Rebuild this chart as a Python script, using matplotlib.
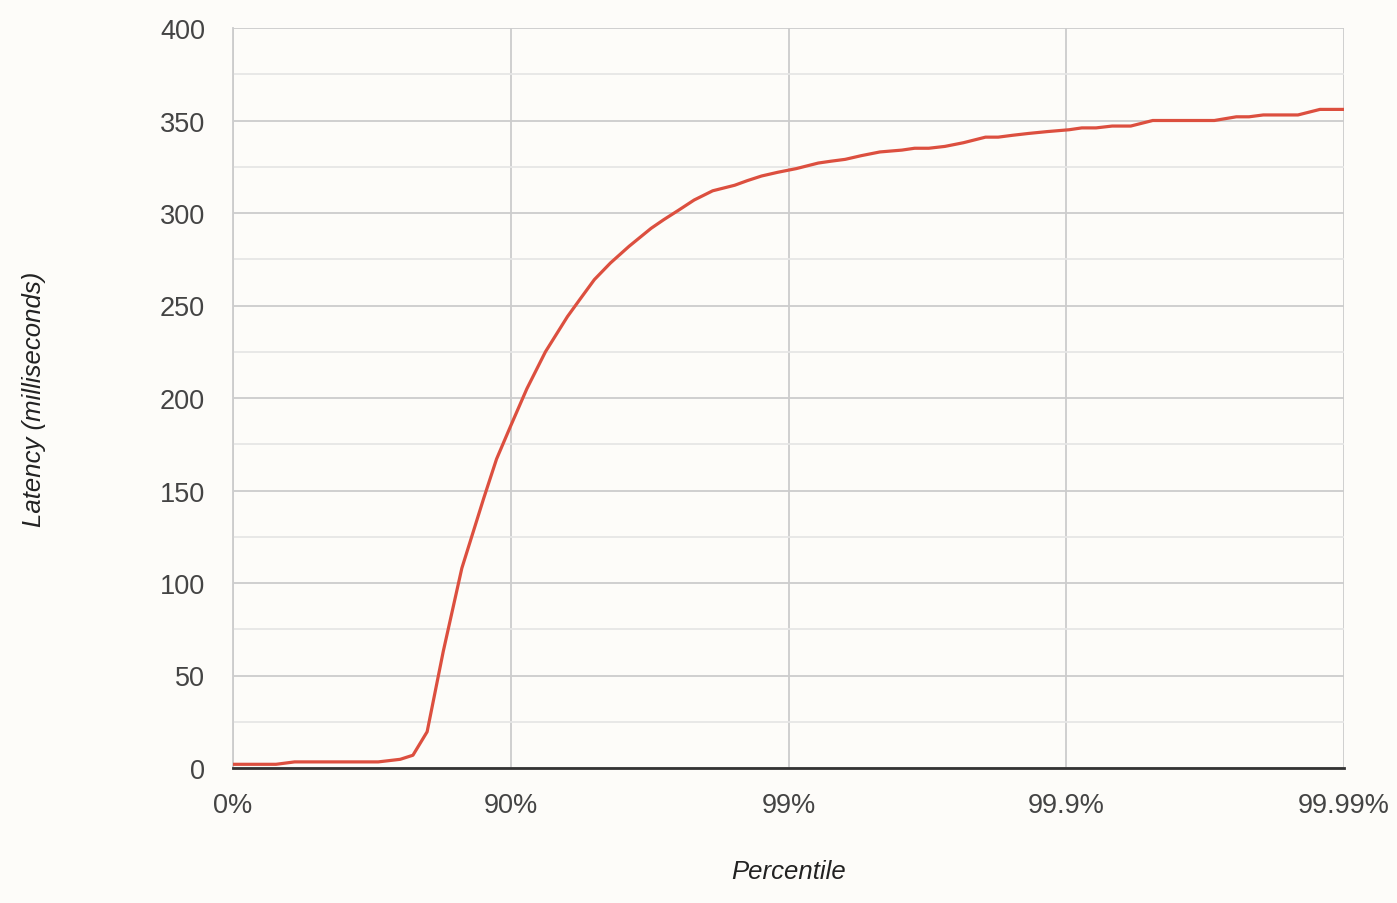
import numpy as np
import matplotlib.pyplot as plt
from matplotlib.ticker import MultipleLocator, NullLocator, FixedLocator

# Percentile distribution (HdrHistogram style)
percentiles = [0, 10, 20, 30, 40, 50, 55, 60, 65, 70, 75, 77.5, 80, 82.5, 85,
               87.5, 88.75, 90, 91.25, 92.5, 93.75, 94.375, 95, 95.625, 96.25,
               96.875, 97.1875, 97.5, 97.8125, 98.125, 98.4375, 98.59375, 98.75,
               98.90625, 99.0625, 99.21875, 99.296875, 99.375, 99.453125,
               99.53125, 99.609375, 99.6484375, 99.6875, 99.7265625, 99.765625,
               99.8046875, 99.82421875, 99.84375, 99.86328125, 99.8828125,
               99.90234375, 99.912109375, 99.921875, 99.931640625, 99.94140625,
               99.951171875, 99.9560546875, 99.9609375, 99.9658203125,
               99.970703125, 99.9755859375, 99.97802734375, 99.98046875,
               99.98291015625, 99.9853515625, 99.98779296875, 99.989013671875,
               99.990234375]
latency_ms = [2, 2, 2, 2, 3.3, 3.3, 3.3, 3.3, 3.3, 3.3, 4.7, 6.9, 19.6, 63, 108,
              146, 167, 185, 205, 225, 244, 253.5, 264, 273, 282,
              291.7, 296.4, 301.3, 307, 312, 315, 317.5, 320,
              322, 324, 327, 328, 329, 331,
              333, 334, 335, 335, 336, 338,
              341, 341, 342, 343, 344,
              345, 346, 346, 347, 347,
              350, 350, 350, 350,
              350, 352, 352, 353,
              353, 353, 356, 356,
              356]

tick_pos = [0, 90, 99, 99.9, 99.99]
tick_labels = ['0%', '90%', '99%', '99.9%', '99.99%']


def fwd(p):
    p = np.asarray(p, dtype=float)
    return -np.log10(np.clip(1 - p / 100.0, 1e-12, None))


def inv(u):
    u = np.asarray(u, dtype=float)
    return 100.0 * (1 - 10.0 ** (-u))


bg = '#fdfcf9'
txt = '#444444'
plt.rcParams['font.family'] = ['Liberation Sans', 'DejaVu Sans']

fig = plt.figure(figsize=(13.97, 9.04), dpi=100, facecolor=bg)
ax = fig.add_axes([233 / 1397, 1 - 769 / 904, (1344 - 233) / 1397, (769 - 29) / 904])
ax.set_facecolor(bg)

ax.set_xscale('function', functions=(fwd, inv))
ax.plot(percentiles, latency_ms, color='#dc4f3f', linewidth=2.3, zorder=3)

ax.set_xlim(0, 99.99)
ax.set_ylim(0, 400)

ax.xaxis.set_major_locator(FixedLocator(tick_pos))
ax.set_xticklabels(tick_labels)
ax.xaxis.set_minor_locator(NullLocator())
ax.yaxis.set_major_locator(MultipleLocator(50))
ax.yaxis.set_minor_locator(MultipleLocator(25))

ax.grid(which='major', color='#cccccc', linewidth=1.3, zorder=0)
ax.grid(which='minor', axis='y', color='#e6e6e6', linewidth=1.3, zorder=0)
ax.set_axisbelow(True)

for s in ['top', 'right']:
    ax.spines[s].set_visible(False)
ax.spines['left'].set_color('#cccccc')
ax.spines['left'].set_linewidth(1.3)
ax.spines['bottom'].set_color('#333333')
ax.spines['bottom'].set_linewidth(2)
ax.spines['bottom'].set_zorder(4)

ax.tick_params(which='both', length=0, labelsize=19.5, labelcolor=txt)
ax.tick_params(axis='y', pad=20)
ax.tick_params(axis='x', pad=17)

ax.set_xlabel('Percentile', fontsize=18.5, style='italic', color='#222222', labelpad=30)
ax.set_ylabel('Latency (milliseconds)', fontsize=18.5, style='italic', color='#222222', labelpad=82)

fig.savefig('out.png', dpi=100, facecolor=bg)
